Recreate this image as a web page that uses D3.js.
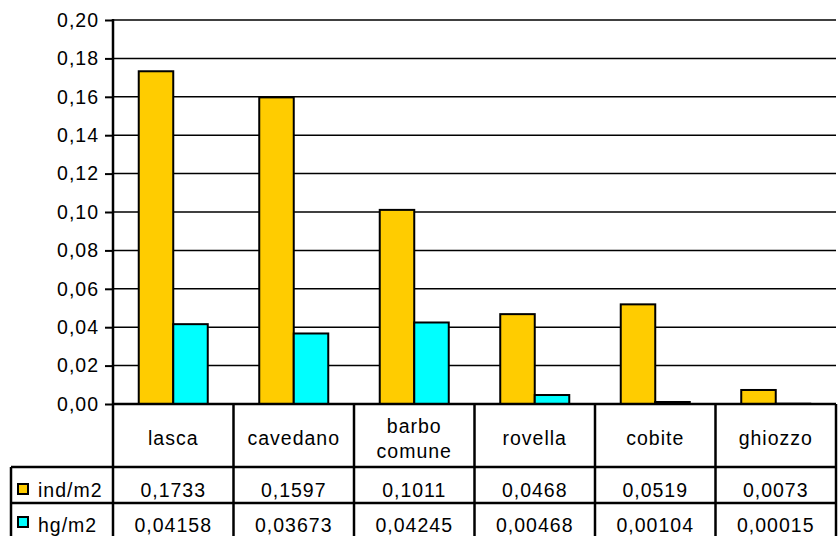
<!DOCTYPE html>
<html><head><meta charset="utf-8">
<script src="https://cdn.jsdelivr.net/npm/d3@7"></script>
<style>
html,body{margin:0;padding:0;background:#fff;}
text{font-family:"Liberation Sans",Arial,sans-serif;font-size:19.5px;fill:#000;letter-spacing:1px;}
</style></head>
<body><svg id="c" width="838" height="536"></svg>
<script>
const categories = ["lasca","cavedano","barbo comune","rovella","cobite","ghiozzo"];
const seriesNames = ["ind/m2","hg/m2"];
const indValues = [0.1733,0.1597,0.1011,0.0468,0.0519,0.0073];
const hgValues = [0.04158,0.03673,0.04245,0.00468,0.00104,0.00015];
const seriesColors = ["#FFCC00","#00FFFF"];
const yTicks = [0,0.02,0.04,0.06,0.08,0.10,0.12,0.14,0.16,0.18,0.20];

const svg = d3.select("#c");
const L = 113, R = 836, T = 20, B = 404;
const rowTop = 467, rowH = 36;

const x0 = d3.scaleBand().domain(categories).range([L, R]).padding(0);
const x1 = d3.scaleBand().domain(seriesNames).range([0, x0.bandwidth()]).paddingInner(0).paddingOuter(0.746);
const y = d3.scaleLinear().domain([0, 0.2]).range([B, T]);
const fmt = v => d3.format(".2f")(v).replace(".", ",");

// gridlines
svg.append("g").selectAll("line").data(yTicks.slice(1)).join("line")
  .attr("x1", L).attr("x2", R).attr("y1", d => y(d)).attr("y2", d => y(d))
  .attr("stroke", "#000").attr("stroke-width", 1.5);

// bars
const series = [indValues, hgValues];
const g = svg.append("g");
series.forEach((vals, si) => {
  g.selectAll(null).data(vals).join("rect")
    .attr("x", (d, i) => x0(categories[i]) + x1(seriesNames[si]))
    .attr("width", x1.bandwidth())
    .attr("y", d => y(d))
    .attr("height", d => B - y(d))
    .attr("fill", seriesColors[si])
    .attr("stroke", "#000").attr("stroke-width", 2);
});

// y axis
const yAxis = d3.axisLeft(y).tickValues(yTicks).tickFormat(fmt).tickSize(8).tickPadding(6);
const ya = svg.append("g").attr("transform", `translate(${L},0)`).call(yAxis);
ya.select(".domain").remove();
ya.attr("font-size", null).attr("font-family", null);
ya.selectAll(".tick line").attr("stroke", "#000").attr("stroke-width", 2);
ya.selectAll(".tick text").attr("fill", "#000");

// axis line
svg.append("line").attr("x1", L).attr("x2", L).attr("y1", T - 1).attr("y2", 540).attr("stroke", "#000").attr("stroke-width", 2.5);

// table lines
const lines = svg.append("g").attr("stroke", "#000").attr("stroke-width", 2.5);
lines.append("line").attr("x1", L).attr("x2", R).attr("y1", B).attr("y2", B);
lines.append("line").attr("x1", 11).attr("x2", R).attr("y1", rowTop).attr("y2", rowTop);
lines.append("line").attr("x1", 11).attr("x2", R).attr("y1", rowTop + rowH).attr("y2", rowTop + rowH);
lines.append("line").attr("x1", 11).attr("x2", 11).attr("y1", rowTop).attr("y2", 540);
lines.selectAll(null).data(categories).join("line")
  .attr("x1", d => x0(d) + x0.bandwidth()).attr("x2", d => x0(d) + x0.bandwidth())
  .attr("y1", B).attr("y2", 540);

// header labels
const hdr = svg.append("g");
categories.forEach(c => {
  const parts = c.split(" ");
  const cx = x0(c) + x0.bandwidth() / 2;
  const t = hdr.append("text").attr("text-anchor", "middle").attr("x", cx);
  if (parts.length === 1) {
    t.attr("y", 445).text(c);
  } else {
    parts.forEach((p, k) => t.append("tspan").attr("x", cx).attr("y", 433 + k * 25).text(p));
  }
});

// data rows
const textBase = [497, 532];
const keyTop = [484, 517];
series.forEach((vals, si) => {
  svg.append("rect").attr("x", 18).attr("y", keyTop[si]).attr("width", 10).attr("height", 10)
    .attr("fill", seriesColors[si]).attr("stroke", "#000").attr("stroke-width", 2);
  svg.append("text").attr("x", 38).attr("y", textBase[si]).text(seriesNames[si]);
  svg.selectAll(null).data(vals).join("text")
    .attr("text-anchor", "middle")
    .attr("x", (d, i) => x0(categories[i]) + x0.bandwidth() / 2)
    .attr("y", textBase[si])
    .text(d => String(d).replace(".", ","));
});
</script></body></html>
